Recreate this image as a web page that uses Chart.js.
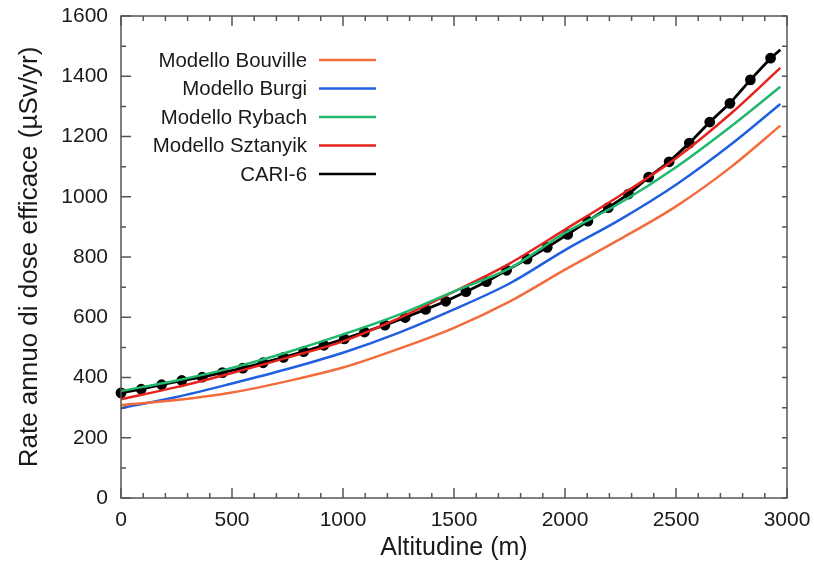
<!DOCTYPE html>
<html>
<head>
<meta charset="utf-8">
<script src="https://cdn.jsdelivr.net/npm/chart.js@4.4.1/dist/chart.umd.min.js"></script>
<style>
  html, body { margin: 0; padding: 0; background: #fff; }
  #wrap { width: 814px; height: 563px; }
</style>
</head>
<body>
<div id="wrap"><canvas id="chart"></canvas></div>
<script>
// altitudes (m) for the model curves
const modelAlt = [0, 250, 500, 750, 1000, 1250, 1500, 1750, 2000, 2250, 2500, 2750, 2970];
const bouville = [309, 325, 350, 388, 433, 495, 565, 652, 758, 860, 968, 1100, 1236];
const burgi    = [298, 335, 380, 428, 482, 548, 626, 712, 823, 925, 1040, 1175, 1308];
const rybach   = [355, 390, 432, 484, 543, 608, 686, 762, 880, 980, 1098, 1235, 1365];
const sztanyik = [328, 368, 415, 466, 520, 596, 685, 778, 891, 1005, 1128, 1278, 1428];

// CARI-6 points (every 300 ft) plus the end of the line
const cariAlt = [0, 91, 183, 274, 366, 457, 549, 640, 732, 823, 914, 1006, 1097, 1189, 1280, 1372,
                 1463, 1554, 1646, 1737, 1829, 1920, 2012, 2103, 2195, 2286, 2377, 2469, 2560,
                 2652, 2743, 2835, 2926, 2970];
const cari6 = [349, 361, 376, 390, 401, 416, 431, 449, 467, 486, 507, 528, 551, 574, 599, 626,
               653, 685, 718, 756, 793, 832, 875, 919, 964, 1009, 1065, 1116, 1178,
               1248, 1310, 1388, 1460, 1488];

const xTicks = [0, 500, 1000, 1500, 2000, 2500, 3000];
const yTicks = [0, 200, 400, 600, 800, 1000, 1200, 1400, 1600];

const FONT = "'Liberation Sans', Arial, Helvetica, sans-serif";
const AXIS_COLOR = '#555';
const TEXT_COLOR = '#1a1a1a';

function pts(xs, ys) {
    return xs.map((x, i) => ({ x: x, y: ys[i] }));
}

function modelSet(label, xs, ys, color) {
    return {
        label: label,
        data: pts(xs, ys),
        borderColor: color,
        backgroundColor: color,
        borderWidth: 2.5,
        pointRadius: 0,
        cubicInterpolationMode: 'monotone',
        clip: false
    };
}

// frame with inward ticks on all four sides
const framePlugin = {
    id: 'frame',
    afterDraw(chart) {
        const ctx = chart.ctx;
        const a = chart.chartArea;
        const xs = chart.scales.x;
        const ys = chart.scales.y;
        ctx.save();
        ctx.strokeStyle = AXIS_COLOR;
        ctx.lineWidth = 1.5;
        ctx.strokeRect(a.left, a.top, a.right - a.left, a.bottom - a.top);
        ctx.beginPath();
        for (let v = 0; v <= 3000; v += 100) {
            const px = xs.getPixelForValue(v);
            const len = v % 500 === 0 ? 10 : 5;
            ctx.moveTo(px, a.bottom); ctx.lineTo(px, a.bottom - len);
            ctx.moveTo(px, a.top); ctx.lineTo(px, a.top + len);
        }
        for (let v = 0; v <= 1600; v += 100) {
            const py = ys.getPixelForValue(v);
            const len = v % 200 === 0 ? 10 : 5;
            ctx.moveTo(a.left, py); ctx.lineTo(a.left + len, py);
            ctx.moveTo(a.right, py); ctx.lineTo(a.right - 5, py);
        }
        ctx.stroke();
        ctx.restore();
    }
};

// legend: label right-aligned, sample line to its right
const legendPlugin = {
    id: 'sideLegend',
    afterDraw(chart) {
        const ctx = chart.ctx;
        ctx.save();
        ctx.font = '20.4px ' + FONT;
        ctx.textAlign = 'right';
        ctx.textBaseline = 'middle';
        chart.data.datasets.forEach((ds, i) => {
            const y = 60 + i * 28.5;
            ctx.fillStyle = TEXT_COLOR;
            ctx.fillText(ds.label, 307, y + 1);
            ctx.strokeStyle = ds.borderColor;
            ctx.lineWidth = 2.5;
            ctx.beginPath();
            ctx.moveTo(319, y);
            ctx.lineTo(376, y);
            ctx.stroke();
        });
        ctx.restore();
    }
};

const cariRadius = cariAlt.map((x, i) => i === cariAlt.length - 1 ? 0 : 4);

new Chart(document.getElementById('chart'), {
    type: 'line',
    data: {
        datasets: [
            modelSet('Modello Bouville', modelAlt, bouville, '#f26c3c'),
            modelSet('Modello Burgi', modelAlt, burgi, '#1f5fe0'),
            modelSet('Modello Rybach', modelAlt, rybach, '#1fb86e'),
            modelSet('Modello Sztanyik', modelAlt, sztanyik, '#e5231c'),
            {
                label: 'CARI-6',
                data: pts(cariAlt, cari6),
                borderColor: '#000',
                backgroundColor: '#000',
                borderWidth: 2.8,
                pointRadius: cariRadius,
                pointHoverRadius: cariRadius,
                clip: false
            }
        ]
    },
    options: {
        responsive: true,
        maintainAspectRatio: false,
        animation: false,
        layout: { padding: { left: 0, right: 27, top: 16, bottom: 0 } },
        plugins: {
            legend: { display: false },
            tooltip: { enabled: false }
        },
        scales: {
            x: {
                type: 'linear',
                min: 0,
                max: 3000,
                afterBuildTicks: s => { s.ticks = xTicks.map(v => ({ value: v })); },
                afterFit: s => { s.height = 65; s.paddingLeft = 0; s.paddingRight = 0; },
                grid: { display: false },
                border: { display: false },
                ticks: {
                    font: { family: FONT, size: 21 }, color: TEXT_COLOR, padding: 2, maxRotation: 0,
                    callback: v => String(v)
                },
                title: {
                    display: true,
                    text: 'Altitudine (m)',
                    font: { family: FONT, size: 25 },
                    color: TEXT_COLOR,
                    padding: { top: 0, bottom: 0 }
                }
            },
            y: {
                min: 0,
                max: 1600,
                afterBuildTicks: s => { s.ticks = yTicks.map(v => ({ value: v })); },
                afterFit: s => { s.width = 121; s.paddingTop = 0; s.paddingBottom = 0; },
                grid: { display: false },
                border: { display: false },
                ticks: {
                    font: { family: FONT, size: 21 }, color: TEXT_COLOR, padding: 5,
                    callback: v => String(v)
                },
                title: {
                    display: true,
                    text: 'Rate annuo di dose efficace (µSv/yr)',
                    font: { family: FONT, size: 26 },
                    color: TEXT_COLOR,
                    padding: { top: 14, bottom: 0 }
                }
            }
        }
    },
    plugins: [framePlugin, legendPlugin]
});
</script>
</body>
</html>
